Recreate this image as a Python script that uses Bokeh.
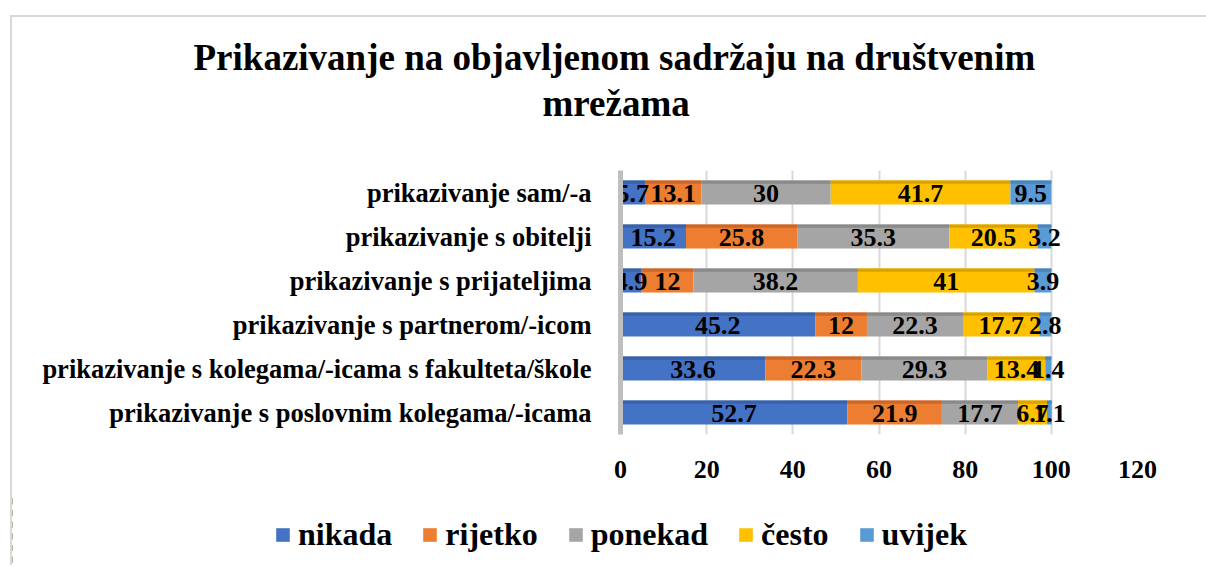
from bokeh.plotting import figure
from bokeh.models import ColumnDataSource, Legend, LegendItem, FactorRange, Range1d, Title
from bokeh.layouts import column, row
from bokeh.core.properties import value
from bokeh.transform import dodge
from bokeh.embed import file_html
from bokeh.resources import INLINE

# ---- data (bottom to top) ----
categories = [
    "prikazivanje s poslovnim kolegama/-icama",
    "prikazivanje s kolegama/-icama s fakulteta/škole",
    "prikazivanje s partnerom/-icom",
    "prikazivanje s prijateljima",
    "prikazivanje s obitelji",
    "prikazivanje sam/-a",
]
series_names = ["nikada", "rijetko", "ponekad", "često", "uvijek"]
nikada = [52.7, 33.6, 45.2, 4.9, 15.2, 5.7]
rijetko = [21.9, 22.3, 12, 12, 25.8, 13.1]
ponekad = [17.7, 29.3, 22.3, 38.2, 35.3, 30]
cesto = [6.7, 13.4, 17.7, 41, 20.5, 41.7]
uvijek = [1.1, 1.4, 2.8, 3.9, 3.2, 9.5]
x_ticks = [0, 20, 40, 60, 80, 100, 120]
title_line1 = "Prikazivanje na objavljenom sadržaju na društvenim"
title_line2 = "mrežama"

series = [nikada, rijetko, ponekad, cesto, uvijek]
colors = ["#4472C4", "#ED7D31", "#A5A5A5", "#FFC000", "#5B9BD5"]
top_colors = ["#3B62A6", "#C9682A", "#8A8A8A", "#D9A300", "#4C84B8"]

FONT = "Liberation Serif"

p = figure(
    width=1194, height=478,
    y_range=FactorRange(*categories, range_padding=0),
    x_range=Range1d(0, 120),
    output_backend="svg", toolbar_location=None,
    min_border_left=608, min_border_right=69,
    min_border_top=153, min_border_bottom=61,
)
p.outline_line_color = None
p.background_fill_color = "white"
p.border_fill_color = "white"

# title (two lines): p.title is the outer line, the extra Title sits next to the frame
p.title.text = title_line1
p.title.align = "left"
p.title.offset = -427
p.title.standoff = -88
p.title.text_font = FONT
p.title.text_font_style = "bold"
p.title.text_font_size = "37px"
p.title.text_color = "#000000"
t2 = Title(text=title_line2, align="left", offset=-78, standoff=94,
           text_font=FONT, text_font_style="bold", text_font_size="37px",
           text_color="#000000")
p.add_layout(t2, "above")

# axes
p.xaxis.ticker = x_ticks
p.xaxis.axis_line_color = None
p.xaxis.major_tick_line_color = None
p.xaxis.minor_tick_line_color = None
p.xaxis.major_label_text_font = FONT
p.xaxis.major_label_text_font_style = "bold"
p.xaxis.major_label_text_font_size = "26px"
p.xaxis.major_label_text_color = "#000000"
p.xaxis.major_label_standoff = 20

p.yaxis.axis_line_color = "#BFBFBF"
p.yaxis.axis_line_width = 5
p.yaxis.major_tick_line_color = None
p.yaxis.minor_tick_line_color = None
p.yaxis.major_label_text_font = FONT
p.yaxis.major_label_text_font_style = "bold"
p.yaxis.major_label_text_font_size = "26.5px"
p.yaxis.major_label_text_color = "#000000"
p.yaxis.major_label_standoff = 23

p.ygrid.grid_line_color = None
p.xgrid.grid_line_color = "#D9D9D9"
p.xgrid.grid_line_width = 2
p.xgrid.ticker = x_ticks[1:]

# stacked bars
data = {"cat": categories}
cum = [0.0] * len(categories)
for i, s in enumerate(series):
    left = list(cum)
    right = [a + b for a, b in zip(cum, s)]
    data[f"l{i}"] = left
    data[f"r{i}"] = right
    data[f"m{i}"] = [(a + b) / 2 for a, b in zip(left, right)]
    data[f"t{i}"] = [("%g" % v) for v in s]
    cum = right
src = ColumnDataSource(data)

for i, name in enumerate(series_names):
    p.hbar(y="cat", left=f"l{i}", right=f"r{i}", height=0.54, source=src,
           fill_color=colors[i], line_color=None)
    p.hbar(y=dodge("cat", 0.235, range=p.y_range), left=f"l{i}", right=f"r{i}",
           height=0.07, source=src, fill_color=top_colors[i], line_color=None)

for i in range(len(series)):
    p.text(x=f"m{i}", y=dodge("cat", -0.03, range=p.y_range), text=f"t{i}", source=src,
           text_align="center", text_baseline="middle",
           text_font=value(FONT), text_font_style="bold", text_font_size="26px",
           text_color="#000000")

# legend strip below the chart (own figure; its frame spans the full width)
p2 = figure(
    width=1194, height=70,
    y_range=FactorRange(*categories, range_padding=0),
    x_range=Range1d(1000, 1001),
    output_backend="svg", toolbar_location=None,
    min_border=0, min_border_left=0, min_border_right=0,
    min_border_top=0, min_border_bottom=0,
)
p2.xaxis.visible = False
p2.yaxis.visible = False
p2.grid.grid_line_color = None
p2.outline_line_color = None
p2.border_fill_color = "white"
p2.background_fill_color = "white"
items = []
for i, name in enumerate(series_names):
    r = p2.hbar(y="cat", left=f"l{i}", right=f"r{i}", height=0.52, source=src,
                fill_color=colors[i], line_color=None)
    items.append(LegendItem(label=name, renderers=[r]))

legend = Legend(items=items, orientation="horizontal", location=(262, 12))
legend.label_text_font = FONT
legend.label_text_font_style = "bold"
legend.label_text_font_size = "32px"
legend.label_text_color = "#000000"
legend.glyph_width = 17
legend.glyph_height = 17
legend.label_standoff = 7
legend.spacing = 29
legend.padding = 0
legend.margin = 0
legend.border_line_color = None
legend.background_fill_alpha = 0
p2.add_layout(legend, "center")

layout = column(p, row(p2), spacing=0, styles={
    "margin-left": "10px", "margin-top": "15px",
    "border-left": "2px solid #D9D9D9", "border-top": "2px solid #D9D9D9",
})

open("out.html", "w").write(file_html(layout, INLINE))
